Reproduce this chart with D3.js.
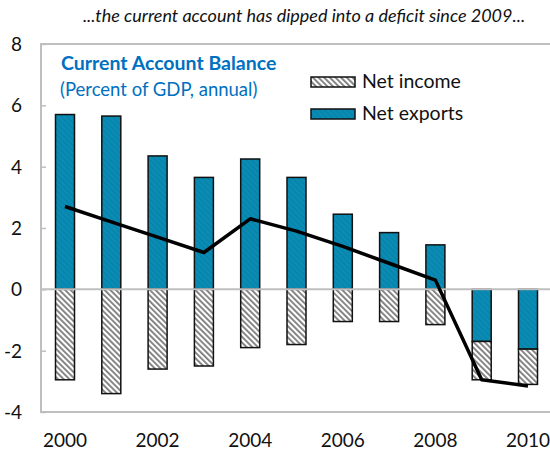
<!DOCTYPE html>
<html><head><meta charset="utf-8">
<script src="https://cdn.jsdelivr.net/npm/d3@7"></script>
<style>body{margin:0;background:#fff}svg{display:block}</style>
</head><body>
<svg id="c" width="550" height="456"></svg>
<script>
const years = [2000,2001,2002,2003,2004,2005,2006,2007,2008,2009,2010];
const netExports = [5.7,5.65,4.35,3.65,4.25,3.65,2.45,1.85,1.45,-1.7,-1.95];
const netIncome = [-2.95,-3.4,-2.6,-2.5,-1.9,-1.8,-1.05,-1.05,-1.15,-1.25,-1.15];
const currentAccount = [2.7,2.2,1.7,1.2,2.3,1.9,1.4,0.85,0.3,-2.95,-3.15];
const yTicks = [-4,-2,0,2,4,6,8];
const xLabels = [2000,2002,2004,2006,2008,2010];

const svg = d3.select("#c");
const font = "Lato, 'Open Sans', sans-serif";
const pLeft = 41, pRight = 550, pTop = 44, pBottom = 412;
const x = d3.scaleLinear().domain([2000,2010]).range([65,528]);
const y = d3.scaleLinear().domain([-4,8]).range([pBottom, pTop]);
const bw = 19;

const defs = svg.append("defs");
const p = defs.append("pattern").attr("id","hatch").attr("patternUnits","userSpaceOnUse")
  .attr("width",4).attr("height",4).attr("patternTransform","rotate(-45)");
p.append("rect").attr("width",4).attr("height",4).attr("fill","#fff");
p.append("rect").attr("x",0).attr("width",1.8).attr("height",4).attr("fill","#7a7a7a");
const pb = defs.append("pattern").attr("id","blue").attr("patternUnits","userSpaceOnUse")
  .attr("width",4).attr("height",4).attr("patternTransform","rotate(-45)");
pb.append("rect").attr("width",4).attr("height",4).attr("fill","#0a8cb4");
pb.append("rect").attr("width",1.5).attr("height",4).attr("fill","#0883aa");

// title
svg.append("text").attr("x",304).attr("y",22).attr("text-anchor","middle")
  .attr("font-family",font).attr("font-style","italic").attr("font-size",18).attr("fill","#111")
  .text("...the current account has dipped into a  deficit since 2009...");

// frame
const gridC = "#bfbfbf";
svg.append("path").attr("d",`M${pRight},${pTop}H${pLeft}V${pBottom}H${pRight}`)
  .attr("fill","none").attr("stroke",gridC).attr("stroke-width",2);

// y axis ticks
const ya = svg.append("g").attr("transform",`translate(${pLeft},0)`)
  .call(d3.axisRight(y).tickValues(yTicks).tickSize(5).tickFormat(""));
ya.select(".domain").remove();
ya.selectAll("line").attr("stroke",gridC).attr("stroke-width",1.5);
svg.append("g").selectAll("text").data(yTicks).join("text")
  .attr("x",d=>d<0?4:11).attr("y",d=>y(d)+7).attr("font-family",font).attr("font-size",19).attr("fill","#111")
  .text(d=>d);

// x labels
svg.append("g").selectAll("text").data(xLabels).join("text")
  .attr("x",d=>x(d)).attr("y",447).attr("text-anchor","middle").attr("font-family",font)
  .attr("font-size",19).attr("fill","#111").text(d=>d);

// bars
const data = years.map((yr,i)=>({yr, ex:netExports[i], inc:netIncome[i], ca:currentAccount[i]}));
const g = svg.append("g");
g.selectAll("rect.ex").data(data).join("rect").attr("class","ex")
  .attr("x",d=>x(d.yr)-bw/2).attr("width",bw)
  .attr("y",d=>y(Math.max(0,d.ex))).attr("height",d=>Math.abs(y(d.ex)-y(0)))
  .attr("fill","url(#blue)").attr("stroke","#111").attr("stroke-width",1.5);
g.selectAll("rect.inc").data(data).join("rect").attr("class","inc")
  .attr("x",d=>x(d.yr)-bw/2).attr("width",bw)
  .attr("y",d=>y(Math.min(0,d.ex))).attr("height",d=>Math.abs(y(d.inc)-y(0)))
  .attr("fill","url(#hatch)").attr("stroke","#111").attr("stroke-width",1.5);

// zero line
svg.append("line").attr("x1",pLeft).attr("x2",pRight).attr("y1",y(0)).attr("y2",y(0))
  .attr("stroke",gridC).attr("stroke-width",2);

// line
svg.append("path").datum(data).attr("fill","none").attr("stroke","#000").attr("stroke-width",3.5)
  .attr("stroke-linejoin","round")
  .attr("d",d3.line().x(d=>x(d.yr)).y(d=>y(d.ca)));

// chart title
svg.append("text").attr("x",61).attr("y",70).attr("font-family",font).attr("font-weight","bold")
  .attr("font-size",19.5).attr("fill","#0070c0").text("Current Account Balance");
svg.append("text").attr("x",60).attr("y",96).attr("font-family",font)
  .attr("font-size",18.5).attr("fill","#0070c0").text("(Percent of GDP, annual)");

// legend
const legend = [{t:"Net income",f:"url(#hatch)"},{t:"Net exports",f:"url(#blue)"}];
const lg = svg.append("g").selectAll("g").data(legend).join("g")
  .attr("transform",(d,i)=>`translate(311,${77+i*32})`);
lg.append("rect").attr("width",44).attr("height",10).attr("fill",d=>d.f).attr("stroke","#111").attr("stroke-width",1.5);
lg.append("text").attr("x",51).attr("y",11).attr("font-family",font).attr("font-size",19.5).attr("fill","#111").text(d=>d.t);
</script>
</body></html>
